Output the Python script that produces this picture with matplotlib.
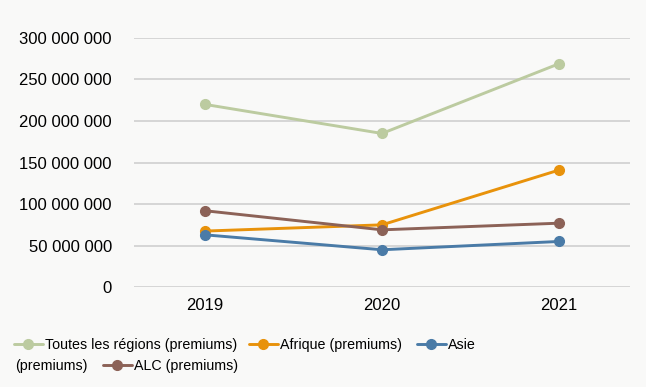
import matplotlib.pyplot as plt
from matplotlib.ticker import FuncFormatter

years = ['2019', '2020', '2021']
toutes = [220e6, 185e6, 269e6]
afrique = [67.5e6, 75e6, 141e6]
asie = [63e6, 45e6, 55e6]
alc = [92e6, 69e6, 77e6]

series = [
    ('Toutes les régions (premiums)', toutes, '#bccba0'),
    ('Afrique (premiums)', afrique, '#e8920b'),
    ('Asie', asie, '#4a7ba7'),
    ('ALC (premiums)', alc, '#8c6257'),
]

plt.rcParams['font.family'] = ['Liberation Sans', 'DejaVu Sans']
plt.rcParams['font.size'] = 12

bg = '#f9f9f8'
fig = plt.figure(figsize=(6.46, 3.87), dpi=100, facecolor=bg)
ax = fig.add_axes([0.2074, 0.258, 0.7678, 0.644], facecolor=bg)

x = list(range(len(years)))
handles = {}
for name, vals, color in series:
    h, = ax.plot(x, vals, color=color, lw=2.1, marker='o', ms=7,
                 solid_capstyle='round')
    handles[name] = h

ax.set_xlim(-0.4, 2.4)
ax.set_ylim(0, 300e6)
ax.set_yticks(range(0, 300000001, 50000000))
ax.yaxis.set_major_formatter(FuncFormatter(lambda v, p: f'{int(v):,}'.replace(',', ' ')))
ax.set_xticks(x)
ax.set_xticklabels(years)
ax.grid(axis='y', color='#d0d0d0', lw=1.2)
ax.set_axisbelow(True)
for s in ax.spines.values():
    s.set_visible(False)
ax.tick_params(axis='y', length=0, pad=16)
ax.tick_params(axis='x', length=0, pad=8)

leg_fs = 10.3


def put_entry(name, label, xpx, ypx):
    lg = fig.legend([handles[name]], [label], frameon=False, fontsize=leg_fs,
                    loc='center left', bbox_to_anchor=(xpx / 646, 1 - ypx / 387),
                    handlelength=2.0, handletextpad=0.15,
                    borderpad=0, borderaxespad=0)
    return lg


# legend, wrapped over two rows like the original
put_entry('Toutes les régions (premiums)', 'Toutes les régions (premiums)', 14, 345)
put_entry('Afrique (premiums)', 'Afrique (premiums)', 249, 345)
put_entry('Asie', 'Asie', 417, 345)
fig.text(15 / 646, 1 - 366 / 387, '(premiums)', ha='left', va='center',
         fontsize=leg_fs)
put_entry('ALC (premiums)', 'ALC (premiums)', 103, 366)

fig.savefig('out.png', dpi=100, facecolor=bg)
